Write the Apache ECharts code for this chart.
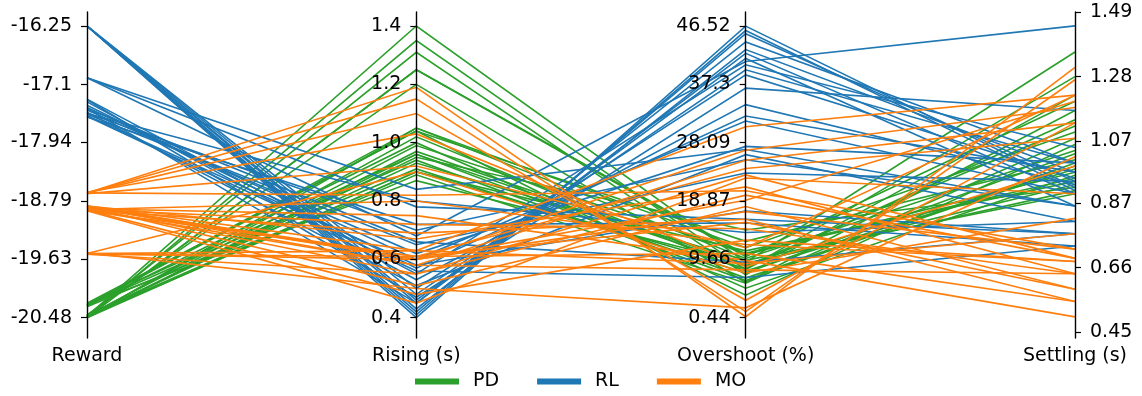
<!DOCTYPE html>
<html><head><meta charset="utf-8">
<script src="https://cdn.jsdelivr.net/npm/echarts@6/dist/echarts.min.js"></script>
<style>html,body{margin:0;padding:0;background:#fff}#c{width:1142px;height:396px}</style>
</head><body><div id="c"></div>
<script>
const axisNames = ['Reward', 'Rising (s)', 'Overshoot (%)', 'Settling (s)'];
const rewardTicks = ['-16.25', '-17.1', '-17.94', '-18.79', '-19.63', '-20.48'];
const risingTicks = ['1.4', '1.2', '1.0', '0.8', '0.6', '0.4'];
const overshootTicks = ['46.52', '37.3', '28.09', '18.87', '9.66', '0.44'];
const settlingTicks = ['1.49', '1.28', '1.07', '0.87', '0.66', '0.45'];
const seriesNames = ['PD', 'RL', 'MO'];

// PD
const pdReward = [-20.46,-20.47,-20.45,-20.48,-20.44,-20.29,-20.47,-20.30,-20.48,-20.27,-20.46,-20.31,-20.45,-20.48,-20.28,-20.47,-20.44,-20.32,-20.48,-20.46,-20.29,-20.45,-20.47,-20.30];
const pdRising = [1.40,1.35,1.31,1.25,1.20,1.05,0.96,1.04,1.05,1.04,1.02,1.00,0.99,0.97,0.96,0.95,0.93,0.91,0.90,0.89,0.87,0.90,1.25,0.94];
const pdOvershoot = [9.2,8.0,7.2,10.1,6.0,11.5,8.6,4.0,9.8,12.5,7.8,5.1,10.6,8.9,6.7,14.3,9.5,7.5,11.0,5.9,9.0,8.2,10.4,6.3];
const pdSettling = [1.36,1.28,1.22,1.20,1.17,1.10,1.12,1.06,1.04,1.01,0.98,0.96,0.95,0.93,0.99,0.92,0.90,1.03,0.94,1.08,0.91,1.14,0.97,1.00];

// RL
const rlReward = [-16.25,-16.25,-16.25,-16.25,-16.25,-16.25,-16.25,-16.25,-17.00,-17.00,-17.00,-17.31,-17.32,-17.35,-17.40,-17.43,-17.44,-17.47,-17.50,-17.51,-17.53,-17.55,-17.57,-17.52,-17.45,-17.56];
const rlRising = [0.40,0.41,0.42,0.43,0.45,0.46,0.48,0.50,0.84,0.78,0.68,0.55,0.47,0.53,0.57,0.60,0.45,0.62,0.51,0.70,0.65,0.58,0.72,0.80,0.66,0.56];
const rlOvershoot = [46.5,45.8,45.3,42.8,42.2,41.4,39.6,38.8,27.0,16.0,40.9,40.4,36.7,34.1,32.3,31.5,44.0,27.5,26.2,25.4,23.3,17.3,15.4,13.9,9.2,6.8];
const rlSettling = [0.92,0.91,0.94,0.97,0.90,0.86,1.00,0.95,0.86,0.77,1.445,1.05,1.17,0.93,0.97,0.90,1.00,1.00,0.81,0.86,0.94,0.77,0.73,0.81,0.77,0.73];

// MO
const moReward = [-18.67,-18.67,-18.67,-18.67,-18.66,-18.68,-18.86,-18.86,-18.87,-18.88,-18.86,-18.89,-18.87,-18.88,-18.92,-18.91,-18.92,-18.93,-18.90,-18.92,-18.91,-18.93,-19.55,-19.55,-19.56,-19.54,-19.55,-19.56];
const moRising = [1.19,1.15,1.10,0.82,1.03,0.92,0.63,0.60,0.58,0.61,0.67,0.55,0.51,0.60,0.69,0.72,0.48,0.61,0.75,0.58,0.80,0.45,0.90,0.60,0.61,0.50,0.63,0.55];
const moOvershoot = [0.6,1.4,3.2,20.5,8.5,11.5,30.6,26.9,25.3,24.0,21.1,19.8,18.0,17.2,16.0,14.5,12.7,10.6,9.5,8.0,12.0,22.5,7.5,19.0,15.5,2.0,9.0,23.0];
const moSettling = [1.31,1.27,1.13,0.72,0.99,1.22,1.22,1.18,1.13,1.08,0.64,0.69,0.59,0.72,0.55,0.64,0.68,0.55,0.50,0.64,0.68,0.90,0.82,1.20,0.59,1.02,0.77,0.69];

const colors = ['#2ca02c', '#1f77b4', '#ff7f0e'];
const groups = [
  [pdReward, pdRising, pdOvershoot, pdSettling],
  [rlReward, rlRising, rlOvershoot, rlSettling],
  [moReward, moRising, moOvershoot, moSettling]
];
const tickSets = [rewardTicks, risingTicks, overshootTicks, settlingTicks];
const axisMin = [-20.774, 0.3304, -2.767, 0.4315];
const axisMax = [-16.047, 1.448, 48.732, 1.49];

function rows(g) {
  return g[0].map((_, i) => [g[0][i], g[1][i], g[2][i], g[3][i]]);
}

const parallelAxis = axisNames.map((name, d) => {
  const labels = tickSets[d];
  const vals = labels.map(Number);
  const leftSide = d < 3;
  return {
    dim: d, name: name, type: 'value',
    min: axisMin[d], max: axisMax[d],
    nameLocation: 'start', nameGap: 9,
    nameTextStyle: { fontSize: 19, color: '#000', fontFamily: 'DejaVu Sans' },
    axisLine: { lineStyle: { color: '#000', width: 1.4 } },
    axisTick: { show: true, length: leftSide ? -6 : 6, customValues: vals, lineStyle: { color: '#000', width: 1.2 } },
    axisLabel: {
      show: true, customValues: vals, margin: leftSide ? -15 : 15,
      align: leftSide ? 'right' : 'left',
      fontSize: 19, color: '#000', fontFamily: 'DejaVu Sans',
      formatter: v => { const k = vals.findIndex(x => Math.abs(x - v) < 1e-9); return k >= 0 ? labels[k] : ''; }
    },
    splitLine: { show: false }
  };
});

const chart = echarts.init(document.getElementById('c'), null, { renderer: 'canvas' });
chart.setOption({
  animation: false,
  color: colors,
  legend: {
    data: seriesNames, left: 415, top: 372, padding: 0,
    icon: 'rect', itemWidth: 42, itemHeight: 4, itemGap: 38,
    textStyle: { fontSize: 19, color: '#000', fontFamily: 'DejaVu Sans', padding: [0, 0, 0, 10] }
  },
  parallel: { left: 87, right: 67, top: 12, bottom: 58, layout: 'horizontal' },
  parallelAxis: parallelAxis,
  series: groups.map((g, i) => ({
    type: 'parallel', name: seriesNames[i], data: rows(g),
    color: colors[i],
    lineStyle: { color: colors[i], width: 1.6, opacity: 1 },
    inactiveOpacity: 1, activeOpacity: 1, smooth: false, silent: true
  }))
});
</script></body></html>
